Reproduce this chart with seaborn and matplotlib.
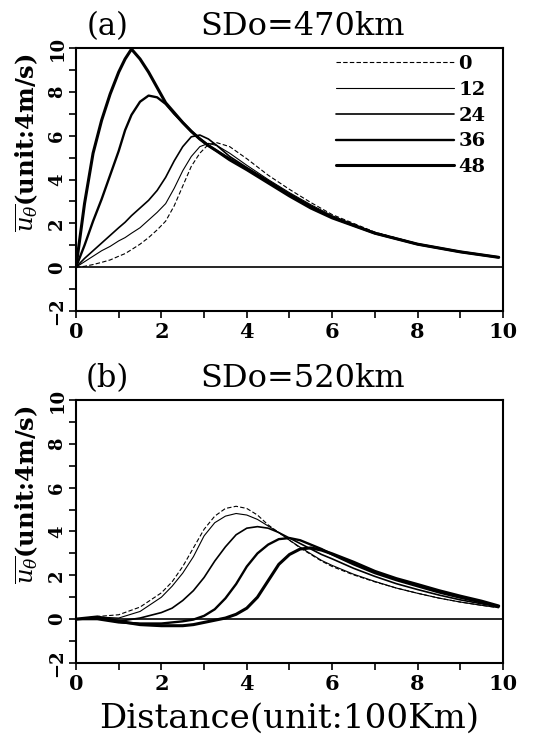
import numpy as np
import pandas as pd
import matplotlib
matplotlib.use("Agg")
import matplotlib.pyplot as plt
import seaborn as sns
from matplotlib.ticker import MultipleLocator

# horas de simulacion (leyenda)
horas = ["0", "12", "24", "36", "48"]

# (a) SDo=470km
dist_a = [0, 0.2, 0.4, 0.6, 0.8, 1.0, 1.15, 1.3, 1.5, 1.7, 1.9, 2.1, 2.3, 2.5,
          2.7, 2.9, 3.1, 3.3, 3.6, 4.0, 4.5, 5.0, 5.5, 6.0, 7.0, 8.0, 9.0, 9.9]
a_00 = [0, 0.04, 0.12, 0.22, 0.33, 0.5, 0.62, 0.8, 1.05, 1.35, 1.7, 2.1, 2.8, 3.7,
        4.6, 5.2, 5.6, 5.68, 5.5, 4.95, 4.2, 3.55, 2.95, 2.4, 1.6, 1.07, 0.7, 0.45]
a_12 = [0, 0.25, 0.5, 0.75, 0.95, 1.2, 1.35, 1.55, 1.8, 2.15, 2.5, 2.9, 3.6, 4.4,
        5.05, 5.5, 5.65, 5.55, 5.2, 4.65, 4.0, 3.4, 2.85, 2.35, 1.58, 1.05, 0.7, 0.45]
a_24 = [0, 0.4, 0.75, 1.1, 1.45, 1.8, 2.05, 2.35, 2.7, 3.05, 3.5, 4.1, 4.85, 5.5,
        5.95, 6.03, 5.85, 5.55, 5.05, 4.55, 3.95, 3.35, 2.8, 2.3, 1.55, 1.05, 0.7, 0.45]
a_36 = [0, 1.0, 2.1, 3.1, 4.2, 5.3, 6.25, 6.95, 7.55, 7.83, 7.75, 7.45, 7.0, 6.6,
        6.2, 5.85, 5.55, 5.3, 4.95, 4.5, 3.9, 3.3, 2.75, 2.27, 1.55, 1.05, 0.7, 0.45]
a_48 = [0, 2.9, 5.2, 6.7, 7.9, 8.9, 9.5, 9.95, 9.5, 8.9, 8.2, 7.5, 7.05, 6.6,
        6.2, 5.85, 5.55, 5.3, 4.9, 4.45, 3.85, 3.25, 2.7, 2.25, 1.55, 1.05, 0.7, 0.45]

# (b) SDo=520km
dist_b = [0, 0.5, 1.0, 1.5, 2.0, 2.25, 2.5, 2.75, 3.0, 3.25, 3.5, 3.75, 4.0, 4.25,
          4.5, 4.75, 5.0, 5.25, 5.5, 5.75, 6.0, 6.5, 7.0, 7.5, 8.0, 8.5, 9.0, 9.5, 9.9]
b_00 = [0, 0.12, 0.2, 0.55, 1.2, 1.7, 2.4, 3.25, 4.1, 4.7, 5.05, 5.15, 5.05, 4.75,
        4.3, 3.95, 3.6, 3.25, 2.95, 2.65, 2.4, 2.02, 1.7, 1.42, 1.18, 0.96, 0.78, 0.63, 0.52]
b_12 = [0, 0.1, 0.05, 0.35, 1.0, 1.5, 2.1, 2.85, 3.8, 4.4, 4.7, 4.82, 4.75, 4.55,
        4.25, 3.95, 3.6, 3.28, 2.98, 2.68, 2.45, 2.05, 1.72, 1.42, 1.18, 0.96, 0.78, 0.63, 0.52]
b_24 = [0, 0.05, -0.1, 0.05, 0.3, 0.5, 0.85, 1.3, 1.9, 2.65, 3.3, 3.85, 4.15, 4.22,
        4.15, 3.95, 3.7, 3.45, 3.2, 2.95, 2.75, 2.32, 1.95, 1.62, 1.35, 1.1, 0.88, 0.7, 0.56]
b_36 = [0, 0.0, -0.15, -0.2, -0.2, -0.15, -0.1, -0.02, 0.15, 0.45, 0.95, 1.6, 2.4, 3.0,
        3.4, 3.65, 3.7, 3.6, 3.4, 3.2, 2.95, 2.5, 2.1, 1.78, 1.5, 1.22, 0.98, 0.76, 0.58]
b_48 = [0, 0.1, -0.1, -0.25, -0.3, -0.3, -0.3, -0.25, -0.15, -0.05, 0.05, 0.22, 0.5, 1.0,
        1.75, 2.5, 2.95, 3.2, 3.25, 3.15, 2.98, 2.6, 2.18, 1.85, 1.58, 1.3, 1.05, 0.82, 0.6]

sns.set_style("ticks")
plt.rcParams["font.family"] = ["DejaVu Serif"]
plt.rcParams["mathtext.fontset"] = "dejavuserif"
for k in ["text.color", "axes.labelcolor", "xtick.color", "ytick.color", "axes.edgecolor"]:
    plt.rcParams[k] = "black"

estilo = {
    "0": dict(lw=0.8, ls=(0, (4, 2))),
    "12": dict(lw=0.8, ls="-"),
    "24": dict(lw=1.2, ls="-"),
    "36": dict(lw=1.7, ls="-"),
    "48": dict(lw=2.2, ls="-"),
}

fig = plt.figure(figsize=(5.34, 7.4), dpi=100)
ax_a = fig.add_axes([0.1423, 0.5797, 0.7996, 0.3554])
ax_b = fig.add_axes([0.1423, 0.1041, 0.7996, 0.3554])

paneles = [
    (ax_a, dist_a, [a_00, a_12, a_24, a_36, a_48], "(a)", "SDo=470km"),
    (ax_b, dist_b, [b_00, b_12, b_24, b_36, b_48], "(b)", "SDo=520km"),
]

for ax, dist, series, letra, titulo in paneles:
    df = pd.DataFrame({"dist": dist, **dict(zip(horas, series))})
    df = df.melt(id_vars="dist", var_name="hora", value_name="u")
    for h in horas:
        kw = {"label": h} if ax is ax_a else {}
        sns.lineplot(data=df[df["hora"] == h], x="dist", y="u", ax=ax,
                     color="black", linewidth=estilo[h]["lw"],
                     linestyle=estilo[h]["ls"], errorbar=None, **kw)
    ax.axhline(0, color="black", lw=1.2, zorder=1)
    ax.set_xlim(0, 10)
    ax.set_ylim(-2, 10)
    ax.xaxis.set_major_locator(MultipleLocator(2))
    ax.xaxis.set_minor_locator(MultipleLocator(1))
    ax.yaxis.set_major_locator(MultipleLocator(2))
    ax.yaxis.set_minor_locator(MultipleLocator(1))
    ax.tick_params(which="both", direction="out", length=5, width=1.2)
    ax.tick_params(axis="x", labelsize=15, pad=3)
    ax.tick_params(axis="y", labelsize=13, labelrotation=90, pad=2)
    for t in ax.get_xticklabels() + ax.get_yticklabels():
        t.set_fontweight("bold")
    for t in ax.get_yticklabels():
        t.set_va("center")
    for s in ax.spines.values():
        s.set_visible(True)
        s.set_linewidth(1.5)
    ax.set_xlabel("")
    ax.set_ylabel(r"$\overline{u_{\theta}}$(unit:4m/s)", fontsize=17.5,
                  fontweight="bold")
    ax.yaxis.set_label_coords(-0.085, 0.64)
    ax.text(0.073, 1.05, letra, transform=ax.transAxes, ha="center",
            va="baseline", fontsize=22)
    ax.text(0.53, 1.05, titulo, transform=ax.transAxes, ha="center",
            va="baseline", fontsize=23)

ax_b.set_xlabel("Distance(unit:100Km)", fontsize=24.5, labelpad=6)

leg = ax_a.legend(loc="upper right", bbox_to_anchor=(1.0, 1.04), frameon=False,
                  handlelength=6.1, handletextpad=0.2, labelspacing=0.4,
                  prop={"size": 14, "weight": "bold"})
for line in leg.get_lines():
    line.set_color("black")

fig.savefig("out.png", dpi=100)
